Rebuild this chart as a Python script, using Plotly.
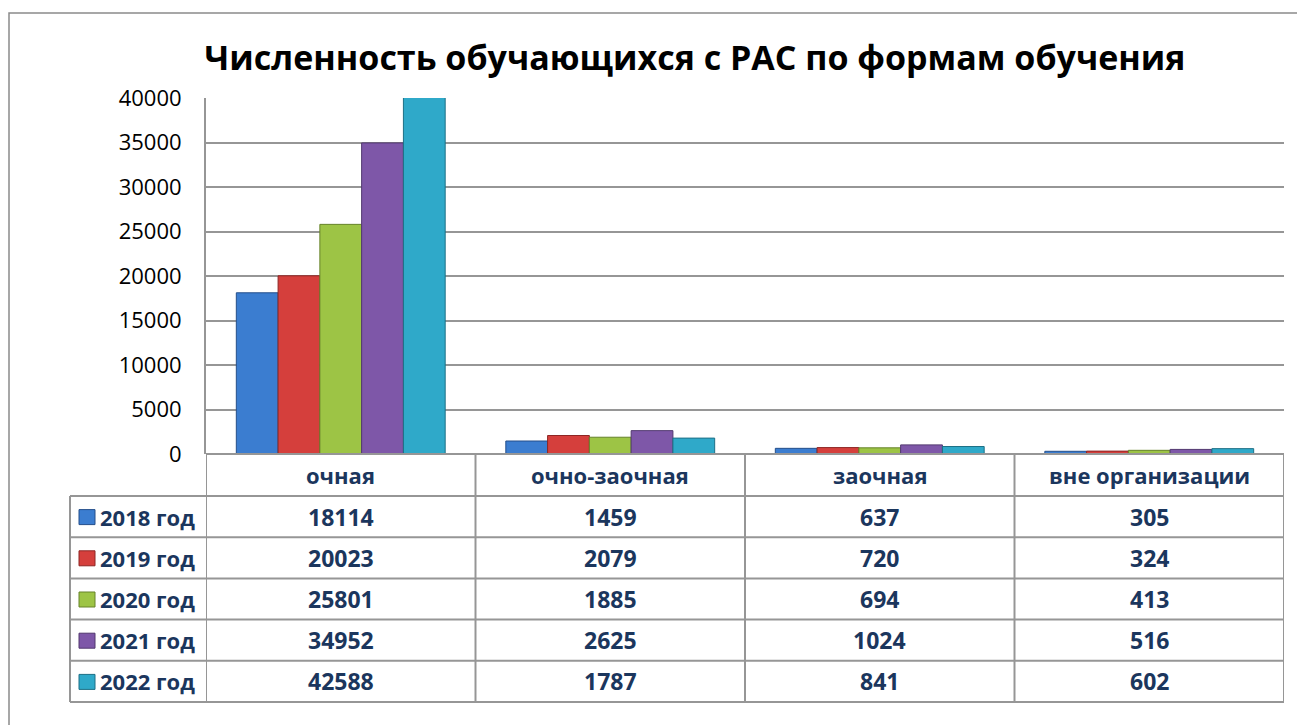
import plotly.graph_objects as go

# ---------------- data ----------------
categories = ["очная", "очно-заочная", "заочная", "вне организации"]
years = ["2018 год", "2019 год", "2020 год", "2021 год", "2022 год"]
v2018 = [18114, 1459, 637, 305]
v2019 = [20023, 2079, 720, 324]
v2020 = [25801, 1885, 694, 413]
v2021 = [34952, 2625, 1024, 516]
v2022 = [42588, 1787, 841, 602]
series = [v2018, v2019, v2020, v2021, v2022]
y_ticks = [0, 5000, 10000, 15000, 20000, 25000, 30000, 35000, 40000]
title_text = "Численность обучающихся с РАС по формам обучения"

# ---------------- style ----------------
colors = ["#3B7DD0", "#D53F3C", "#9DC445", "#7E57A8", "#2FA9C9"]
edges = ["#254f8a", "#8e2624", "#66832a", "#52386f", "#1d6f86"]
navy = "#1B365D"
grid = "#969696"
FONT = "Open Sans"

OFF = 8                      # default page body margin
W, H = 1305 - OFF, 725 - OFF
# plot area in (window) pixels
L, R, T, B = 206, 1284, 98, 454


def px(x):
    return (x - L) / (R - L)


def py(y):
    return (B - y) / (B - T)


fig = go.Figure()
for name, vals, c, e in zip(years, series, colors, edges):
    fig.add_trace(go.Bar(
        x=list(range(len(categories))), y=vals, name=name,
        marker=dict(color=c, line=dict(color=e, width=1)),
        showlegend=False, hoverinfo="x+y+name",
    ))

shapes = []
annotations = []
line_style = dict(color=grid, width=2)

# outer border
shapes.append(dict(type="rect", xref="paper", yref="paper",
                   x0=px(9), x1=px(1320), y0=py(13), y1=py(740),
                   line=dict(color="#8a8a8a", width=1.5), layer="below"))

# table geometry
header_top, header_bot = 454, 496
row_h = (702 - 496) / len(years)
row_lines = [header_bot + i * row_h for i in range(len(years) + 1)]
left_x = 70

# horizontal lines
shapes.append(dict(type="line", xref="paper", yref="paper",
                   x0=px(L), x1=px(R), y0=py(header_top), y1=py(header_top), line=line_style))
for yy in row_lines:
    shapes.append(dict(type="line", xref="paper", yref="paper",
                       x0=px(left_x), x1=px(R), y0=py(yy), y1=py(yy), line=line_style))
# vertical lines
shapes.append(dict(type="line", xref="paper", yref="paper",
                   x0=px(left_x), x1=px(left_x), y0=py(header_bot), y1=py(702), line=line_style))
for i in range(len(categories) + 1):
    xx = i - 0.5
    shapes.append(dict(type="line", xref="x", yref="paper",
                       x0=xx, x1=xx, y0=py(header_top), y1=py(702), line=line_style))

# header labels
for i, cat in enumerate(categories):
    annotations.append(dict(x=i, y=py((header_top + header_bot) / 2), xref="x", yref="paper",
                            text=f"<b>{cat}</b>", showarrow=False,
                            xanchor="center", yanchor="middle",
                            font=dict(family=FONT, size=22, color=navy)))

# rows
for r, (name, vals, c, e) in enumerate(zip(years, series, colors, edges)):
    yc = (row_lines[r] + row_lines[r + 1]) / 2
    shapes.append(dict(type="rect", xref="paper", yref="paper",
                       x0=px(79), x1=px(95), y0=py(yc - 7), y1=py(yc + 8),
                       fillcolor=c, line=dict(color=e, width=1)))
    annotations.append(dict(x=px(98), y=py(yc), xref="paper", yref="paper",
                            text=f"<b>{name}</b>", showarrow=False,
                            xanchor="left", yanchor="middle",
                            font=dict(family=FONT, size=22, color=navy)))
    for i, v in enumerate(vals):
        annotations.append(dict(x=i, y=py(yc), xref="x", yref="paper",
                                text=f"<b>{v}</b>", showarrow=False,
                                xanchor="center", yanchor="middle",
                                font=dict(family=FONT, size=23, color=navy)))

fig.update_layout(
    width=W, height=H,
    margin=dict(l=L - OFF, r=1305 - R, t=T - OFF, b=725 - B),
    paper_bgcolor="white", plot_bgcolor="white",
    barmode="group", bargap=0.225, bargroupgap=0,
    title=dict(text=f"<b>{title_text}</b>", x=(695 - OFF) / W, xanchor="center",
               y=1 - (58 - OFF) / H, yanchor="middle",
               font=dict(family=FONT, size=34, color="black")),
    xaxis=dict(range=[-0.5, len(categories) - 0.5], showticklabels=False,
               showgrid=False, zeroline=False, showline=False, fixedrange=True),
    yaxis=dict(range=[0, 40000], tickvals=y_ticks, ticktext=[str(t) for t in y_ticks],
               showgrid=True, gridcolor=grid, gridwidth=2, zeroline=False,
               showline=True, linecolor=grid, linewidth=2,
               ticks="", ticklabelstandoff=18,
               tickfont=dict(family=FONT, size=22, color="black"), fixedrange=True),
    shapes=shapes, annotations=annotations,
)

fig.write_html("out.html")
